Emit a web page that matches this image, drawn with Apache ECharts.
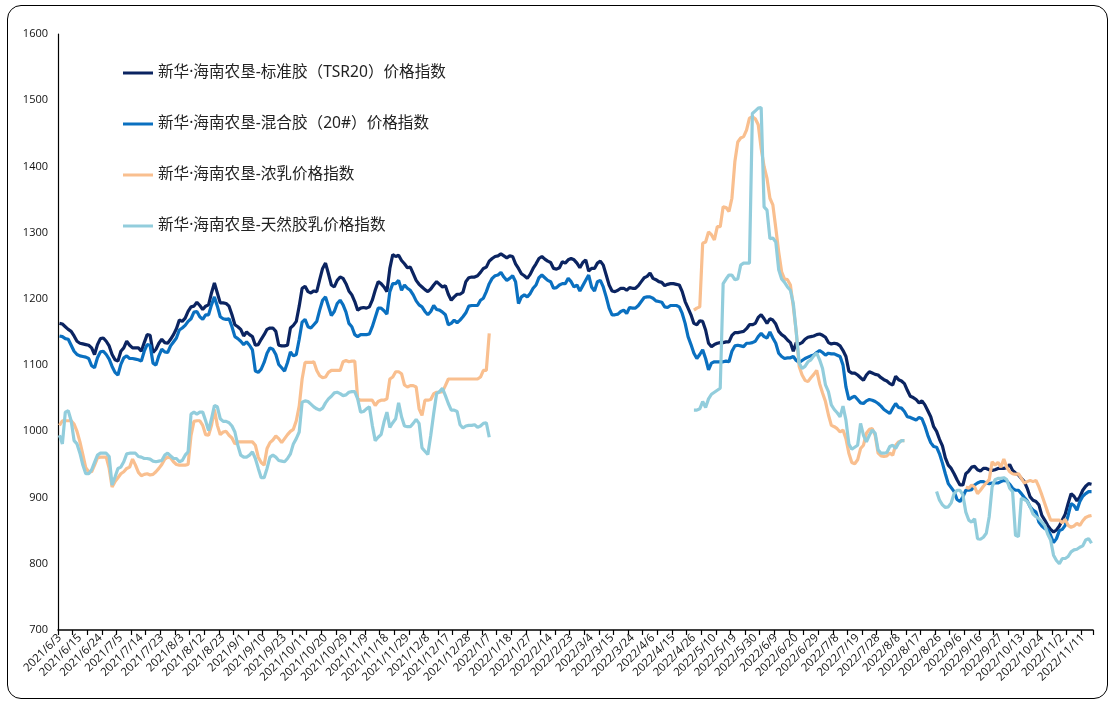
<!DOCTYPE html>
<html>
<head>
<meta charset="utf-8">
<script src="https://cdn.jsdelivr.net/npm/echarts@6/dist/echarts.min.js"></script>
<style>
html,body{margin:0;padding:0;background:#fff;}
#wrap{position:relative;width:1110px;height:704px;overflow:hidden;background:#fff;}
#frame{position:absolute;left:7px;top:5px;width:1101px;height:694px;border:1px solid #000;border-radius:14px;box-sizing:border-box;}
#chart{position:absolute;left:0;top:0;width:1110px;height:704px;}
</style>
</head>
<body>
<div id="wrap"><div id="frame"></div><div id="chart"></div></div>
<script>
// Trading days per month (categories)
const months = ["2021/6","2021/7","2021/8","2021/9","2021/10","2021/11","2021/12","2022/1","2022/2","2022/3","2022/4","2022/5","2022/6","2022/7","2022/8","2022/9","2022/10","2022/11"];
const monthDays = [
 [3,4,7,8,9,10,11,15,16,17,18,21,22,23,24,25,28,29,30],
 [1,2,5,6,7,8,9,12,13,14,15,16,19,20,21,22,23,26,27,28,29,30],
 [2,3,4,5,6,9,10,11,12,13,16,17,18,19,20,23,24,25,26,27,30,31],
 [1,2,3,6,7,8,9,10,13,14,15,16,17,22,23,24,27,28,29,30],
 [8,11,12,13,14,15,18,19,20,21,22,25,26,27,28,29],
 [1,2,3,4,5,8,9,10,11,12,15,16,17,18,19,22,23,24,25,26,29,30],
 [1,2,3,6,7,8,9,10,13,14,15,16,17,20,21,22,23,24,27,28,29,30,31],
 [4,5,6,7,10,11,12,13,14,17,18,19,20,21,24,25,26,27,28],
 [7,8,9,10,11,14,15,16,17,18,21,22,23,24,25,28],
 [1,2,3,4,7,8,9,10,11,14,15,16,17,18,21,22,23,24,25,28,29,30,31],
 [1,6,7,8,11,12,13,14,15,18,19,20,21,22,25,26,27,28,29],
 [5,6,9,10,11,12,13,16,17,18,19,20,23,24,25,26,27,30,31],
 [1,2,6,7,8,9,10,13,14,15,16,17,20,21,22,23,24,27,28,29,30],
 [1,4,5,6,7,8,11,12,13,14,15,18,19,20,21,22,25,26,27,28,29],
 [1,2,3,4,5,8,9,10,11,12,15,16,17,18,19,22,23,24,25,26,29,30,31],
 [1,2,5,6,7,8,9,13,14,15,16,19,20,21,22,23,26,27,28,29,30],
 [10,11,12,13,14,17,18,19,20,21,24,25,26,27,28,31],
 [1,2,3,4,7,8,9,10,11,14,15,16]
];

const seriesNames = [
 "新华·海南农垦-标准胶（TSR20）价格指数",
 "新华·海南农垦-混合胶（20#）价格指数",
 "新华·海南农垦-浓乳价格指数",
 "新华·海南农垦-天然胶乳价格指数"
];

const tsr20 = [
1163,1162,1158,1154,1151,1144,1136,1133,1132,1131,
1130,1126,1116,1131,1140,1141,1136,1129,1116,1108,
1106,1121,1126,1136,1130,1126,1126,1126,1121,1134,
1146,1145,1119,1124,1133,1139,1134,1133,1139,1146,
1155,1168,1166,1171,1181,1188,1189,1195,1190,1184,
1189,1191,1209,1224,1209,1194,1194,1193,1189,1176,
1161,1158,1154,1144,1150,1146,1143,1130,1131,1139,
1146,1154,1156,1156,1151,1130,1129,1129,1130,1156,
1160,1166,1189,1216,1219,1211,1209,1212,1211,1229,
1246,1254,1238,1221,1218,1228,1233,1231,1223,1212,
1206,1196,1183,1186,1187,1186,1188,1198,1213,1226,
1223,1218,1211,1246,1267,1264,1266,1258,1253,1247,
1248,1238,1228,1222,1218,1214,1211,1215,1221,1226,
1222,1218,1220,1207,1198,1203,1207,1207,1210,1226,
1232,1233,1233,1235,1240,1246,1248,1257,1261,1264,
1265,1268,1265,1262,1265,1264,1253,1246,1238,1235,
1231,1237,1246,1253,1261,1264,1260,1257,1255,1246,
1245,1247,1256,1254,1259,1261,1259,1254,1247,1255,
1259,1242,1246,1246,1254,1257,1251,1236,1221,1212,
1211,1213,1216,1216,1213,1217,1216,1216,1220,1226,
1232,1234,1239,1231,1229,1226,1225,1220,1222,1223,
1223,1222,1221,1211,1196,1186,1176,1163,1161,1167,
1166,1153,1133,1128,1131,1133,1134,1134,1135,1135,
1145,1149,1149,1150,1151,1155,1161,1161,1163,1172,
1176,1170,1163,1170,1168,1162,1151,1146,1143,1138,
1134,1121,1134,1132,1134,1139,1142,1143,1144,1146,
1147,1145,1142,1134,1132,1133,1132,1129,1122,1113,
1091,1088,1088,1085,1081,1077,1085,1090,1088,1086,
1085,1081,1078,1076,1072,1070,1083,1078,1076,1072,
1062,1053,1051,1048,1043,1046,1040,1031,1022,1007,
1000,988,978,960,949,944,936,927,919,919,
936,940,946,947,942,940,944,944,942,941,
942,944,944,944,945,950,941,937,934,929,
924,914,901,896,894,889,873,866,858,852,
848,851,857,866,875,891,906,902,895,901,
911,917,921,920
];

const mixed20 = [
1144,1143,1140,1139,1130,1121,1116,1114,1113,1112,
1110,1099,1096,1111,1120,1121,1116,1109,1098,1089,
1085,1101,1111,1114,1110,1110,1109,1108,1106,1121,
1131,1130,1103,1100,1114,1124,1120,1119,1129,1135,
1141,1153,1156,1160,1166,1170,1180,1181,1173,1169,
1176,1176,1191,1203,1189,1173,1170,1169,1170,1158,
1143,1140,1136,1131,1135,1130,1123,1091,1089,1094,
1104,1118,1126,1124,1116,1101,1096,1091,1104,1120,
1114,1116,1139,1165,1169,1158,1156,1161,1166,1183,
1198,1203,1189,1175,1181,1193,1198,1191,1180,1163,
1158,1146,1143,1146,1146,1146,1147,1158,1172,1186,
1186,1182,1177,1211,1223,1223,1228,1213,1221,1216,
1213,1206,1197,1191,1188,1181,1176,1181,1190,1184,
1183,1180,1176,1161,1163,1168,1164,1168,1173,1179,
1189,1190,1190,1190,1198,1201,1211,1223,1231,1235,
1236,1240,1233,1228,1231,1235,1226,1193,1203,1206,
1203,1208,1216,1221,1232,1236,1232,1228,1226,1216,
1217,1221,1223,1223,1231,1226,1218,1221,1212,1220,
1228,1236,1218,1212,1226,1228,1218,1203,1186,1176,
1176,1177,1181,1183,1178,1187,1186,1186,1190,1196,
1202,1203,1203,1201,1197,1196,1195,1188,1187,1190,
1190,1190,1188,1178,1163,1143,1131,1118,1110,1116,
1123,1110,1093,1103,1105,1105,1105,1105,1106,1105,
1121,1129,1130,1129,1128,1133,1133,1134,1136,1143,
1148,1143,1141,1150,1141,1133,1118,1113,1110,1111,
1111,1113,1107,1104,1107,1110,1112,1114,1115,1119,
1122,1119,1115,1118,1117,1117,1115,1113,1100,1067,
1048,1051,1053,1048,1043,1042,1046,1048,1047,1045,
1042,1038,1033,1030,1027,1035,1042,1036,1035,1030,
1022,1021,1019,1017,1021,1019,1008,994,983,977,
976,966,952,936,921,915,909,897,894,901,
911,911,912,919,922,924,924,922,921,922,
922,922,924,926,925,920,914,911,911,906,
900,895,886,881,878,863,857,853,852,843,
832,838,850,852,858,873,891,888,881,894,
902,906,909,909
];

const latexConc = [
1009,1016,1016,1016,1016,1011,1000,984,965,945,
939,939,949,960,961,961,961,944,916,924,
930,936,939,944,946,958,949,938,933,935,
936,934,935,939,944,950,958,961,960,954,
950,949,949,949,950,994,1015,1016,1016,1009,
995,994,1009,1033,1009,995,999,1000,994,990,
981,984,984,984,984,984,984,979,961,953,
949,974,983,987,993,989,983,989,995,1000,
1003,1016,1038,1079,1104,1104,1104,1105,1092,1084,
1081,1082,1089,1092,1092,1092,1092,1105,1107,1105,
1106,1106,1049,1047,1047,1047,1047,1047,1039,1045,
1047,1047,1049,1079,1082,1090,1090,1087,1070,1067,
1069,1069,1067,1034,1024,1047,1047,1048,1057,1059,
1059,1060,1069,1079,1079,1079,1079,1079,1079,1079,
1079,1079,1079,1079,1082,1092,1092,1148,null,null,
null,null,null,null,null,null,null,null,null,null,
null,null,null,null,null,null,null,null,null,null,
null,null,null,null,null,null,null,null,null,null,
null,null,null,null,null,null,null,null,null,null,
null,null,null,null,null,null,null,null,null,null,
null,null,null,null,null,null,null,null,null,null,
null,null,null,null,null,null,null,1183,1186,1188,
1284,1286,1301,1297,1289,1309,1309,1339,1338,1332,
1352,1407,1437,1443,1445,1455,1473,1475,1472,1463,
1427,1400,1382,1352,1342,1307,1271,1241,1230,1229,
1221,1188,1150,1098,1085,1077,1075,1081,1086,1092,
1072,1058,1045,1025,1009,1007,1004,999,1002,989,
967,953,951,957,974,979,997,1003,1004,994,
967,963,962,963,967,964,979,984,986,986,
null,null,null,null,null,null,null,null,null,null,
null,null,null,null,null,null,null,null,null,null,
916,914,919,916,906,911,917,922,927,954,
949,953,946,958,946,939,936,935,936,929,
922,924,926,924,926,916,904,891,878,866,
866,866,866,862,867,858,855,857,861,858,
865,870,872,873
];

const latexNatural = [
994,981,1029,1031,1016,986,981,967,949,936,
936,942,953,964,967,967,967,962,919,931,
944,946,954,966,967,967,967,962,961,959,
959,958,955,954,955,956,964,967,963,959,
959,954,956,964,969,1026,1029,1026,1029,1029,
1016,1001,1019,1039,1037,1019,1015,1015,1013,1008,
999,979,964,961,961,964,969,959,944,930,
930,944,961,964,961,956,955,954,959,966,
981,989,999,1044,1046,1045,1041,1037,1034,1032,
1035,1043,1049,1053,1058,1059,1057,1054,1055,1059,
1060,1060,1049,1029,1030,1034,1037,1009,986,991,
995,1014,1029,1006,1013,1019,1043,1022,1008,1007,
1007,1012,1018,1012,975,970,965,994,1027,1057,
1060,1065,1054,1042,1032,1032,1030,1010,1005,1008,
1009,1009,1010,1006,1008,1012,1013,991,null,null,
null,null,null,null,null,null,null,null,null,null,
null,null,null,null,null,null,null,null,null,null,
null,null,null,null,null,null,null,null,null,null,
null,null,null,null,null,null,null,null,null,null,
null,null,null,null,null,null,null,null,null,null,
null,null,null,null,null,null,null,null,null,null,
null,null,null,null,null,null,null,1032,1032,1034,
1045,1036,1049,1056,1059,1062,1065,1223,1230,1236,
1236,1229,1230,1251,1254,1254,1254,1480,1484,1488,
1489,1339,1334,1291,1292,1286,1244,1230,1225,1218,
1213,1193,1150,1103,1095,1098,1105,1108,1114,1118,
1108,1095,1070,1060,1040,1033,1028,1022,1038,1017,
981,973,976,979,1012,994,984,994,1002,997,
972,967,967,968,977,979,974,982,986,986,
null,null,null,null,null,null,null,null,null,null,
909,896,889,885,886,892,906,911,911,904,
878,866,863,868,838,837,840,846,871,916,
927,929,929,930,927,914,909,843,841,899,
897,894,886,875,871,868,863,858,845,836,
813,805,800,808,808,811,818,821,822,825,
827,836,838,831
];

const yTicks = {min:700, max:1600, step:100};
const colors = ["#0b2461","#0a70c0","#f9bf8f","#92cddc"];

const categories = [];
months.forEach((m, k) => monthDays[k].forEach(d => categories.push(m + "/" + d)));

const chart = echarts.init(document.getElementById('chart'), null, {renderer:'canvas'});
const dataSets = [tsr20, mixed20, latexConc, latexNatural];
chart.setOption({
  animation:false,
  backgroundColor:'transparent',
  color: colors,
  grid:{left:58, right:17, top:34, bottom:74, containLabel:false},
  legend:{
    orient:'vertical', left:118, top:58,
    icon:'rect', itemWidth:30, itemHeight:3, itemGap:31,
    textStyle:{fontFamily:'"Noto Sans", "Noto Sans CJK SC", sans-serif', fontSize:15.6, color:'#222', lineHeight:20},
    data: seriesNames
  },
  xAxis:{
    type:'category', data:categories, boundaryGap:true,
    axisLine:{show:true, lineStyle:{color:'#000', width:1.5}},
    axisTick:{show:true, interval:4, length:5, lineStyle:{color:'#000', width:1.2}},
    axisLabel:{interval:6, rotate:45, fontSize:11.5, color:'#111', margin:6, fontFamily:'"Open Sans", "Noto Sans", sans-serif'},
    splitLine:{show:false}
  },
  yAxis:{
    type:'value', min:yTicks.min, max:yTicks.max, interval:yTicks.step,
    axisLine:{show:true, lineStyle:{color:'#000', width:1.2}},
    axisTick:{show:false},
    axisLabel:{fontSize:11, color:'#111', margin:10, fontWeight:500, fontFamily:'"Open Sans", "Noto Sans", sans-serif', formatter:(v)=>String(v)},
    splitLine:{show:false}
  },
  series: dataSets.map((d, k) => ({
    name: seriesNames[k], type:'line', data:d, symbol:'none', showSymbol:false,
    connectNulls:false, lineStyle:{width:3.2, color:colors[k]}, itemStyle:{color:colors[k]},
    emphasis:{disabled:true}
  }))
});
</script>
</body>
</html>
